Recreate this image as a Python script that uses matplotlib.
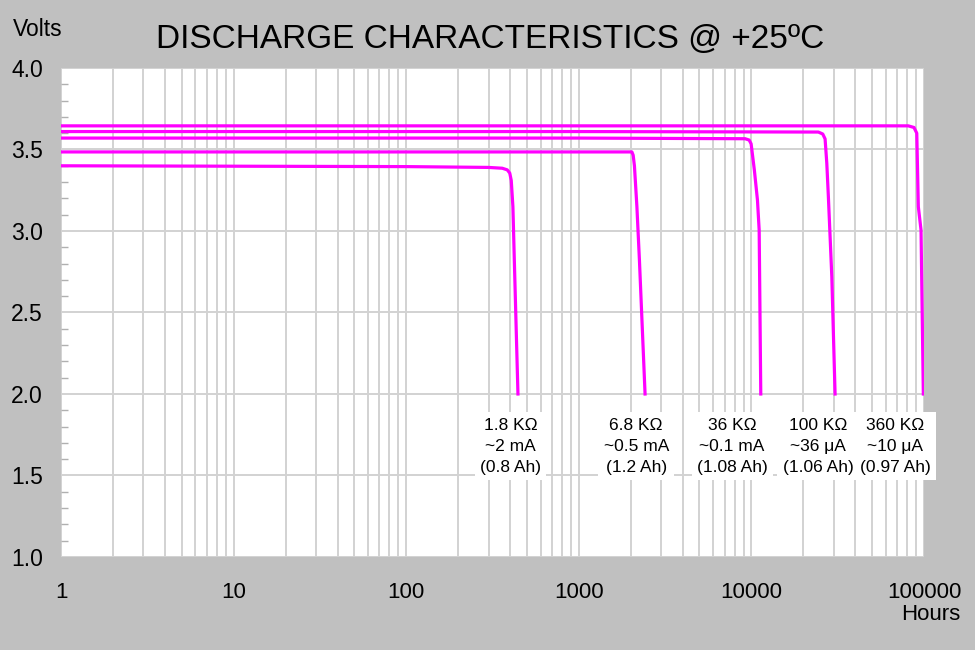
import matplotlib
matplotlib.use('Agg')
import matplotlib.pyplot as plt
import numpy as np
from matplotlib.ticker import FixedLocator, MultipleLocator, NullFormatter

plt.rcParams['font.family'] = ['Liberation Sans', 'DejaVu Sans']

# discharge curves (hours, volts)
hours_1k8 = [1, 100, 300, 360, 385, 398, 406, 415, 423, 444]
volts_1k8 = [3.40, 3.395, 3.39, 3.385, 3.375, 3.355, 3.31, 3.15, 2.82, 2.0]

hours_6k8 = [1, 1000, 2030, 2065, 2100, 2170, 2245, 2420]
volts_6k8 = [3.485, 3.485, 3.485, 3.465, 3.40, 3.15, 2.82, 2.0]

hours_36k = [1, 1000, 9200, 9700, 9960, 10400, 10840, 11090, 11330]
volts_36k = [3.57, 3.57, 3.566, 3.558, 3.535, 3.374, 3.19, 3.006, 2.0]

hours_100k = [1, 1000, 24430, 25900, 26720, 27340, 27920, 29230, 30530]
volts_100k = [3.61, 3.61, 3.607, 3.595, 3.565, 3.415, 3.21, 2.72, 2.0]

hours_360k = [1, 1000, 81100, 87500, 90800, 92700, 96100, 99100]
volts_360k = [3.645, 3.645, 3.645, 3.635, 3.60, 3.149, 3.006, 2.0]

curves = [(hours_1k8, volts_1k8), (hours_6k8, volts_6k8), (hours_36k, volts_36k),
          (hours_100k, volts_100k), (hours_360k, volts_360k)]

label_texts = ['1.8 K\u03a9\n~2 mA\n(0.8 Ah)',
               '6.8 K\u03a9\n~0.5 mA\n(1.2 Ah)',
               '36 K\u03a9\n~0.1 mA\n(1.08 Ah)',
               '100 K\u03a9\n~36 \u03bcA\n(1.06 Ah)',
               '360 K\u03a9\n~10 \u03bcA\n(0.97 Ah)']
label_hours = [401, 2150, 7730, 24300, 67900]
label_volt = 1.68

x_ticks = [1, 10, 100, 1000, 10000, 100000]
x_ticklabels = ['1', '10', '100', '1000', '10000', '100000']
y_ticks = [1.0, 1.5, 2.0, 2.5, 3.0, 3.5, 4.0]

bg = '#c0c0c0'
grid_c = '#d2d2d2'
mag = '#ff00ff'

fig = plt.figure(figsize=(9.75, 6.5), dpi=100, facecolor=bg)
ax = fig.add_axes([0.0626, 0.1431, 0.8851, 0.7523])
ax.set_facecolor('white')

for h, v in curves:
    ax.plot(h, v, color=mag, lw=2.3, solid_joinstyle='round', zorder=3)

ax.set_xscale('log')
ax.set_xlim(1, 100000)
ax.set_ylim(1.0, 4.0)

ax.xaxis.set_major_locator(FixedLocator(x_ticks))
ax.set_xticklabels(x_ticklabels)
ax.xaxis.set_minor_locator(matplotlib.ticker.LogLocator(base=10, subs=np.arange(2, 10)))
ax.xaxis.set_minor_formatter(NullFormatter())
ax.set_yticks(y_ticks)
ax.set_yticklabels(['%.1f' % t for t in y_ticks])
ax.yaxis.set_minor_locator(MultipleLocator(0.1))

ax.tick_params(axis='x', which='both', length=0, pad=18, labelsize=16)
ax.tick_params(axis='y', which='major', length=0, pad=13, labelsize=16.5)
ax.tick_params(axis='y', which='minor', length=5, width=1, color='#b0b0b0', direction='in')

ax.grid(True, axis='x', which='both', color=grid_c, lw=1.4)
ax.grid(True, axis='y', which='major', color=grid_c, lw=1.4)
ax.set_axisbelow(True)
for s in ax.spines.values():
    s.set_visible(False)

for txt, hx in zip(label_texts, label_hours):
    ax.text(hx, label_volt, txt, ha='center', va='center', fontsize=12.5,
            linespacing=1.5, zorder=5,
            bbox=dict(facecolor='white', edgecolor='none', boxstyle='square,pad=0.3'))

fig.text(0.5026, 0.9395, 'DISCHARGE CHARACTERISTICS @ +25\u00baC', ha='center', va='center', fontsize=24)
fig.text(0.0133, 0.955, 'Volts', ha='left', va='center', fontsize=16.5)
fig.text(0.985, 0.055, 'Hours', ha='right', va='center', fontsize=16)

fig.savefig('out.png', dpi=100, facecolor=bg)
